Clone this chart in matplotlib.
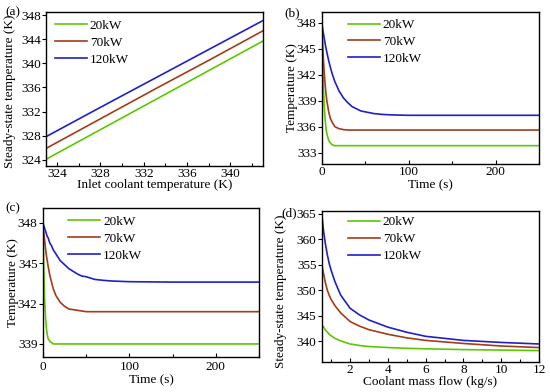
import matplotlib
matplotlib.use("Agg")
import matplotlib.pyplot as plt
from matplotlib.ticker import MultipleLocator

plt.rcParams['font.family'] = ['Liberation Serif', 'DejaVu Serif']
plt.rcParams['font.size'] = 9.5

labels = ["20kW", "70kW", "120kW"]
colors = ["#5CC800", "#A23C1A", "#2020C8"]

# (a) steady-state temperature vs inlet coolant temperature
inlet = [323, 328, 333, 338, 343]
a_20 = [324.1, 329.0, 333.9, 338.8, 343.7]
a_70 = [325.9, 330.8, 335.7, 340.5, 345.4]
a_120 = [327.85, 332.7, 337.5, 342.3, 347.1]

# (b), (c) temperature vs time
t = [0, 1, 2, 3, 4, 5, 6, 8, 10, 12, 15, 20, 25, 30, 35, 40, 45, 50, 60, 70, 80, 100,
     150, 200, 250]
b_20 = [348, 343.3, 340.2, 338.1, 336.7, 335.7, 335.1, 334.4, 334.1, 333.9, 333.8, 333.8,
        333.8, 333.8, 333.8, 333.8, 333.8, 333.8, 333.8, 333.8, 333.8, 333.8, 333.8, 333.8,
        333.8]
b_70 = [348, 345.5, 343.6, 342.0, 340.7, 339.7, 338.9, 337.7, 336.9, 336.5, 336.0, 335.75,
        335.65, 335.6, 335.6, 335.6, 335.6, 335.6, 335.6, 335.6, 335.6, 335.6, 335.6, 335.6,
        335.6]
b_120 = [348, 347.3, 346.7, 346.1, 345.5, 345.0, 344.5, 343.6, 342.8, 342.1, 341.2, 340.1,
         339.3, 338.75, 338.3, 338.05, 337.8, 337.7, 337.5, 337.4, 337.35, 337.3, 337.3,
         337.3, 337.3]

c_20 = [348, 344.5, 342.3, 341.0, 340.2, 339.7, 339.4, 339.2, 339.1, 339.0, 339.0, 339.0,
        339.0, 339.0, 339.0, 339.0, 339.0, 339.0, 339.0, 339.0, 339.0, 339.0, 339.0, 339.0,
        339.0]
c_70 = [348, 347.3, 346.7, 346.1, 345.6, 345.2, 344.8, 344.1, 343.6, 343.1, 342.6, 342.1,
        341.8, 341.6, 341.55, 341.5, 341.45, 341.4, 341.4, 341.4, 341.4, 341.4, 341.4, 341.4,
        341.4]
c_120 = [348, 347.8, 347.6, 347.4, 347.2, 347.0, 346.9, 346.5, 346.3, 346.0, 345.7, 345.2,
         344.9, 344.6, 344.4, 344.2, 344.05, 344.0, 343.8, 343.73, 343.68, 343.63, 343.6,
         343.6, 343.6]

# (d) steady-state temperature vs coolant mass flow
flow = [0.5, 0.6, 0.7, 0.8, 0.9, 1.0, 1.2, 1.5, 2.0, 2.5, 3.0, 4.0, 5.0, 6.0, 8.0, 10.0, 12.0]
d_20 = [343.3, 342.8, 342.2, 341.8, 341.4, 341.1, 340.6, 340.1, 339.5, 339.2, 339.0, 338.8,
        338.65, 338.55, 338.4, 338.3, 338.2]
d_70 = [355.2, 353.2, 351.4, 350.0, 349.0, 348.2, 347.0, 345.6, 343.9, 343.0, 342.3, 341.4,
        340.7, 340.2, 339.6, 339.1, 338.8]
d_120 = [365.0, 361.5, 359.0, 356.9, 355.2, 353.9, 351.7, 349.1, 346.5, 345.2, 344.2, 342.8,
         341.8, 341.0, 340.2, 339.8, 339.5]

fig = plt.figure(figsize=(5.5, 3.92), dpi=100)
ax_a = fig.add_axes([0.084, 0.577, 0.394, 0.392])
ax_b = fig.add_axes([0.585, 0.582, 0.395, 0.387])
ax_c = fig.add_axes([0.078, 0.090, 0.393, 0.379])
ax_d = fig.add_axes([0.585, 0.077, 0.395, 0.385])

lw = 1.2
for y, lab, col in zip([a_20, a_70, a_120], labels, colors):
    ax_a.plot(inlet, y, color=col, lw=lw, label=lab)
for y, lab, col in zip([b_20, b_70, b_120], labels, colors):
    ax_b.plot(t, y, color=col, lw=lw, label=lab)
for y, lab, col in zip([c_20, c_70, c_120], labels, colors):
    ax_c.plot(t, y, color=col, lw=lw, label=lab)
for y, lab, col in zip([d_20, d_70, d_120], labels, colors):
    ax_d.plot(flow, y, color=col, lw=lw, label=lab)

ax_a.set_xlim(323, 343)
ax_a.set_ylim(323, 348.5)
ax_a.set_xticks([324, 328, 332, 336, 340])
ax_a.xaxis.set_minor_locator(MultipleLocator(2))
ax_a.yaxis.set_major_locator(MultipleLocator(4))
ax_a.set_xlabel("Inlet coolant temperature (K)")
ax_a.set_ylabel("Steady-state temperature (K)")
ax_a.xaxis.set_label_coords(0.5, -0.088)
ax_a.yaxis.set_label_coords(-0.14, 0.487)

ax_b.set_xlim(0, 250)
ax_b.set_ylim(331.7, 349.2)
ax_b.set_yticks([333, 336, 339, 342, 345, 348])
ax_b.xaxis.set_major_locator(MultipleLocator(100))
ax_b.xaxis.set_minor_locator(MultipleLocator(50))
ax_b.set_xlabel("Time (s)")
ax_b.set_ylabel("Temperature (K)")
ax_b.xaxis.set_label_coords(0.5, -0.1)
ax_b.yaxis.set_label_coords(-0.108, 0.5)

ax_c.set_xlim(0, 250)
ax_c.set_ylim(338.05, 349.1)
ax_c.set_yticks([339, 342, 345, 348])
ax_c.xaxis.set_major_locator(MultipleLocator(100))
ax_c.xaxis.set_minor_locator(MultipleLocator(50))
ax_c.set_xlabel("Time (s)")
ax_c.set_ylabel("Temperature (K)")
ax_c.xaxis.set_label_coords(0.5, -0.12)
ax_c.yaxis.set_label_coords(-0.112, 0.5)

ax_d.set_xlim(0.5, 12)
ax_d.set_ylim(336.0, 365.6)
ax_d.set_xticks([2, 4, 6, 8, 10, 12])
ax_d.xaxis.set_minor_locator(MultipleLocator(1))
ax_d.set_yticks([340, 345, 350, 355, 360, 365])
ax_d.set_xlabel("Coolant mass flow (kg/s)")
ax_d.set_ylabel("Steady-state temperature (K)")
ax_d.xaxis.set_label_coords(0.5, -0.093)
ax_d.yaxis.set_label_coords(-0.158, 0.47)

for ax in [ax_a, ax_b, ax_c, ax_d]:
    ax.tick_params(axis='x', which='major', direction='in', length=3, width=0.8, pad=1.5)
    ax.tick_params(axis='x', which='minor', direction='in', length=2, width=0.8)
    ax.tick_params(axis='y', which='major', direction='out', length=3, width=0.8, pad=0.8)
    for s in ax.spines.values():
        s.set_linewidth(1.0)
ax_c.tick_params(axis='x', which='major', pad=3)

leg_pos = {ax_a: (0.04, 0.95), ax_b: (0.12, 0.955), ax_c: (0.116, 0.95), ax_d: (0.12, 0.965)}
for ax, pos in leg_pos.items():
    ax.legend(frameon=False, loc='upper left', bbox_to_anchor=pos, borderaxespad=0,
              borderpad=0, handlelength=2.45, handletextpad=0.2, labelspacing=0.35,
              fontsize=9.5)

fig.text(0.009, 0.968, "(a)", ha='left', va='center', fontsize=9.5)
fig.text(0.517, 0.966, "(b)", ha='left', va='center', fontsize=9.5)
fig.text(0.009, 0.469, "(c)", ha='left', va='center', fontsize=9.5)
fig.text(0.512, 0.455, "(d)", ha='left', va='center', fontsize=9.5)

fig.savefig("out.png", dpi=100)
